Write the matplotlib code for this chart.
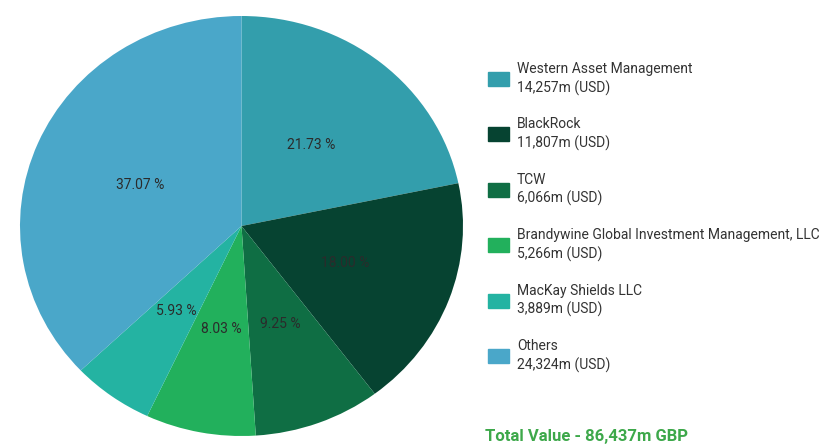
import matplotlib
matplotlib.use('Agg')
from matplotlib import pyplot as plt
from matplotlib.patches import Rectangle

managers = ['Western Asset Management', 'BlackRock', 'TCW',
            'Brandywine Global Investment Management, LLC',
            'MacKay Shields LLC', 'Others']
values = [14257, 11807, 6066, 5266, 3889, 24324]
colors = ['#339eac', '#064331', '#0f6e44', '#22b05c', '#24b3a2', '#4aa7c9']
total_label = 'Total Value - 86,437m GBP'

plt.rcParams['font.family'] = ['Roboto', 'DejaVu Sans']

W, H = 832, 445
fig = plt.figure(figsize=(W / 100, H / 100), dpi=100)

# pie is slightly squashed in the reference: centre (241.5, 226), rx 221.5, ry 210
cx, cy, rx, ry = 241.5, 226, 221.5, 210
ax = fig.add_axes([(cx - rx) / W, (H - cy - ry) / H, 2 * rx / W, 2 * ry / H])
ax.pie(values, colors=colors, startangle=90, counterclock=False,
       autopct='%.2f %%', pctdistance=0.5, radius=1,
       textprops={'fontsize': 10, 'color': '#2b2b2b'},
       wedgeprops={'linewidth': 0})
ax.set_xlim(-1, 1)
ax.set_ylim(-1, 1)
ax.set_aspect('auto')
ax.axis('off')

# legend, drawn in pixel positions
for i, (name, v) in enumerate(zip(managers, values)):
    top = 72 + i * 55.4
    fig.patches.append(Rectangle((488 / W, 1 - (top + 14) / H), 21 / W, 14 / H,
                                 transform=fig.transFigure, color=colors[i]))
    fig.text(517 / W, 1 - (top - 3) / H, name, fontsize=10, color='#333333', va='center')
    fig.text(517 / W, 1 - (top + 16) / H, f'{v:,}m (USD)', fontsize=10, color='#333333', va='center')

fig.text(485 / W, 1 - 436 / H, total_label, fontsize=12, fontweight='bold',
         color='#3da84a', va='center')

fig.savefig('out.png', dpi=100)
